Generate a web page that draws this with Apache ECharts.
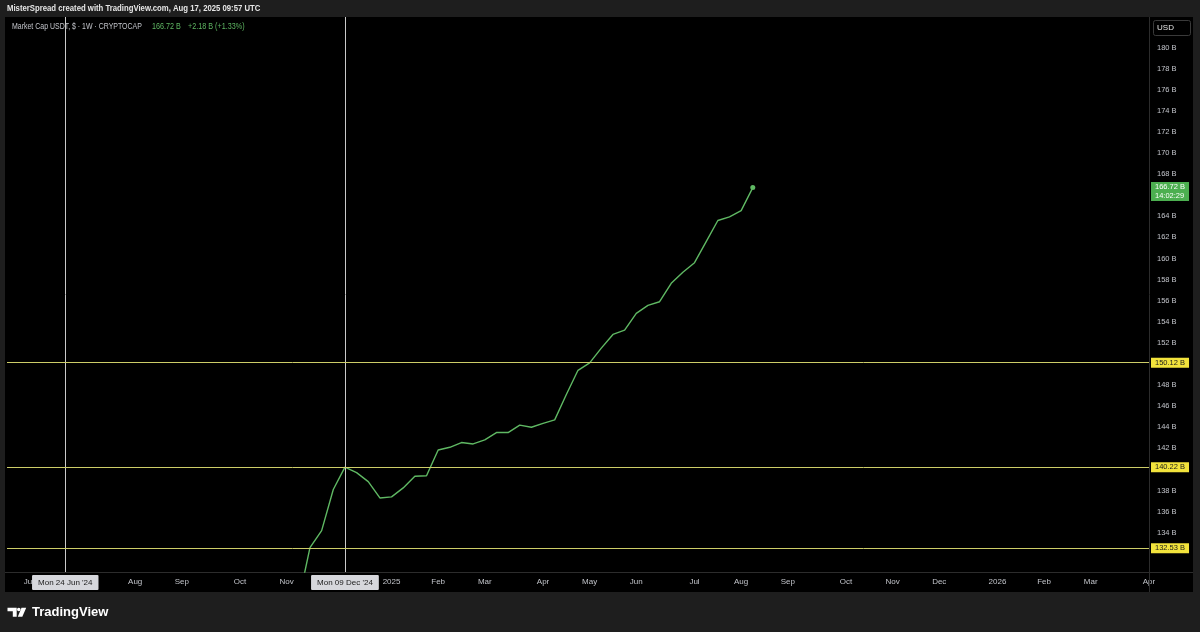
<!DOCTYPE html>
<html>
<head>
<meta charset="utf-8">
<script src="https://cdn.jsdelivr.net/npm/echarts@6/dist/echarts.min.js"></script>
<style>
html,body{margin:0;padding:0;background:#1e1e1e;}
#chart{width:1200px;height:632px;}
</style>
</head>
<body>
<div id="chart"></div>
<script>
// ---- data ----
const weeks = [
  '2024-11-04','2024-11-11','2024-11-18','2024-11-25',
  '2024-12-02','2024-12-09','2024-12-16','2024-12-23','2024-12-30',
  '2025-01-06','2025-01-13','2025-01-20','2025-01-27',
  '2025-02-03','2025-02-10','2025-02-17','2025-02-24',
  '2025-03-03','2025-03-10','2025-03-17','2025-03-24','2025-03-31',
  '2025-04-07','2025-04-14','2025-04-21','2025-04-28',
  '2025-05-05','2025-05-12','2025-05-19','2025-05-26',
  '2025-06-02','2025-06-09','2025-06-16','2025-06-23','2025-06-30',
  '2025-07-07','2025-07-14','2025-07-21','2025-07-28',
  '2025-08-04','2025-08-11'
];
const usdtCap = [
  120.9, 127.4, 132.6, 134.2,
  138.1, 140.22, 139.7, 138.85, 137.3,
  137.4, 138.25, 139.35, 139.4,
  141.85, 142.1, 142.55, 142.42,
  142.8, 143.5, 143.5, 144.2, 144.0,
  144.37, 144.7, 147.1, 149.4,
  150.1, 151.5, 152.8, 153.2,
  154.8, 155.55, 155.9, 157.65, 158.7,
  159.6, 161.6, 163.6, 163.95,
  164.54, 166.72
];
const levels = [150.12, 140.22, 132.53];
const crosshairDates = ['2024-06-24', '2024-12-09'];
const crosshairLabels = ["Mon 24 Jun '24", "Mon 09 Dec '24"];
const lastPrice = 166.72;
const lastPriceLabel = '166.72 B\n14:02:29';
const yTicks = [134,136,138,140,142,144,146,148,150,152,154,156,158,160,162,164,166,168,170,172,174,176,178,180];
const monthNames = ['Jan','Feb','Mar','Apr','May','Jun','Jul','Aug','Sep','Oct','Nov','Dec'];
const axisStart = '2024-05-20';
const axisEnd = '2026-04-06';
const yMin = 130.28, yMax = 182.89;

// weekly category axis (Mondays)
const categories = [];
(function(){
  let d = new Date(axisStart + 'T00:00:00Z');
  const end = new Date(axisEnd + 'T00:00:00Z');
  while (d <= end) {
    categories.push(d.toISOString().slice(0,10));
    d = new Date(d.getTime() + 7*86400000);
  }
})();

const seriesData = weeks.map((w,i)=>[w, usdtCap[i]]);
const FONT = "'Liberation Sans',sans-serif";
const lastIdx = seriesData.length - 1;

const markData = [];
crosshairDates.forEach((d,i)=>{
  markData.push({
    xAxis: d,
    lineStyle: {color:'#c9c9c9', width:1, type:'solid'},
    label: {show:true, position:'start', distance:3, formatter: crosshairLabels[i],
      backgroundColor:'#d6d7dc', color:'#1a1a1a', fontSize:8, fontFamily:FONT,
      padding:[4,6,3,6], borderRadius:1}
  });
});
levels.forEach(v=>{
  markData.push({
    yAxis: v,
    lineStyle: {color:'#cdcd68', width:1, type:'solid'},
    label: {show:true, position:'end', distance:2, formatter: v.toFixed(2)+' B',
      backgroundColor:'#f2e33c', color:'#1a1a1a', fontSize:7.5, fontFamily:FONT,
      padding:[1,4,1,4], lineHeight:8}
  });
});
markData.push({
  yAxis: lastPrice,
  lineStyle: {color:'rgba(0,0,0,0)', width:0},
  label: {show:true, position:'end', distance:2, formatter: lastPriceLabel,
    backgroundColor:'#4caf50', color:'#ffffff', fontSize:7.5, fontFamily:FONT,
    padding:[1,4,1,4], lineHeight:8.5, offset:[0,4]}
});

const chart = echarts.init(document.getElementById('chart'), null, {renderer:'canvas'});
const option = {
  backgroundColor: '#000000',
  animation: false,
  grid: {left:7, right:51, top:17, bottom:60, containLabel:false},
  xAxis: {
    type:'category', data: categories, boundaryGap:false,
    axisLine:{show:true, lineStyle:{color:'#2c2c2c'}},
    axisTick:{show:false}, splitLine:{show:false},
    axisLabel:{
      interval: (idx, val) => parseInt(val.slice(8),10) <= 7,
      formatter: val => {
        const m = parseInt(val.slice(5,7),10);
        return m === 1 ? val.slice(0,4) : monthNames[m-1];
      },
      color:'#c2c4ca', fontSize:8, fontFamily:FONT, margin:6, hideOverlap:false
    }
  },
  yAxis: {
    type:'value', position:'right', min:yMin, max:yMax, scale:true,
    axisLine:{show:true, lineStyle:{color:'#2c2c2c'}},
    axisTick:{show:false}, splitLine:{show:false},
    axisLabel:{customValues: yTicks, formatter: v => v + ' B', color:'#c2c4ca',
      fontSize:7.5, fontFamily:FONT, align:'left', margin:8}
  },
  series: [{
    type:'line', data: seriesData,
    lineStyle:{color:'#5fb863', width:1.4},
    itemStyle:{color:'#5fb863'},
    symbol:'circle', showSymbol:true, showAllSymbol:true,
    symbolSize: (v, p) => p.dataIndex === lastIdx ? 5 : 0,
    clip:true, silent:true,
    markLine:{silent:true, symbol:['none','none'], animation:false, data: markData}
  }],
  graphic: [
    // outer dark frame strips
    {type:'rect', shape:{x:0,y:0,width:1200,height:17}, style:{fill:'#1e1e1e'}, z:1},
    {type:'rect', shape:{x:0,y:592,width:1200,height:40}, style:{fill:'#1e1e1e'}, z:1},
    {type:'rect', shape:{x:0,y:0,width:5,height:632}, style:{fill:'#1e1e1e'}, z:1},
    {type:'rect', shape:{x:1193,y:0,width:7,height:632}, style:{fill:'#1e1e1e'}, z:1},
    // separators
    {type:'line', shape:{x1:5,y1:572.5,x2:1193,y2:572.5}, style:{stroke:'#2c2c2c', lineWidth:1}, z:1},
    {type:'line', shape:{x1:1149.5,y1:572,x2:1149.5,y2:592}, style:{stroke:'#2c2c2c', lineWidth:1}, z:1},
    // header
    {type:'text', x:7, y:9, scaleX:0.86, style:{text:'MisterSpread created with TradingView.com, Aug 17, 2025 09:57 UTC',
      fill:'#e6e6e6', font:'bold 9px '+FONT, verticalAlign:'middle'}, z:5},
    // legend
    {type:'text', x:12, y:27, scaleX:0.82, style:{text:'Market Cap USDT, $ · 1W · CRYPTOCAP',
      fill:'#c3c5cb', font:'8.5px '+FONT, verticalAlign:'middle'}, z:5},
    {type:'text', x:152, y:27, scaleX:0.85, style:{text:'166.72 B', fill:'#5fb863', font:'8.5px '+FONT, verticalAlign:'middle'}, z:5},
    {type:'text', x:188, y:27, scaleX:0.85, style:{text:'+2.18 B (+1.33%)', fill:'#5fb863', font:'8.5px '+FONT, verticalAlign:'middle'}, z:5},
    // USD box
    {type:'rect', shape:{x:1153.5,y:20.5,width:37,height:15,r:2}, style:{fill:'#000', stroke:'#3a3a3a', lineWidth:1}, z:5},
    {type:'text', x:1165.5, y:28, style:{text:'USD', fill:'#e6e6e6', font:'8px '+FONT, align:'center', verticalAlign:'middle'}, z:6},
    // TradingView logo
    {type:'polygon', shape:{points:[[7.5,607.7],[16.7,607.7],[16.7,616.7],[12.8,616.7],[12.8,611.2],[7.5,611.2]]}, style:{fill:'#ffffff'}, z:5},
    {type:'circle', shape:{cx:18.8, cy:609.5, r:1.8}, style:{fill:'#ffffff'}, z:5},
    {type:'polygon', shape:{points:[[21.5,607.7],[26.2,607.7],[22.3,616.7],[17.8,616.7]]}, style:{fill:'#ffffff'}, z:5},
    {type:'text', x:32, y:612, style:{text:'TradingView', fill:'#ffffff', font:'bold 13px "Liberation Sans",sans-serif', verticalAlign:'middle'}, z:5}
  ]
};
chart.setOption(option);
</script>
</body>
</html>
